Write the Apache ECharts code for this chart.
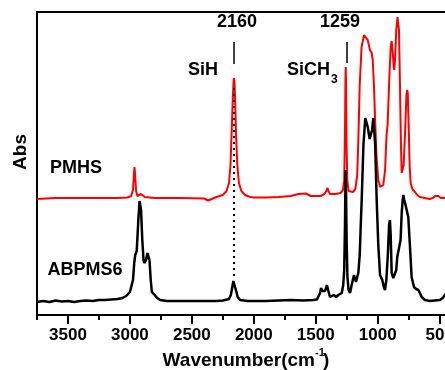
<!DOCTYPE html>
<html>
<head>
<meta charset="utf-8">
<script src="https://cdn.jsdelivr.net/npm/echarts@6/dist/echarts.min.js"></script>
<style>
  html, body { margin: 0; padding: 0; overflow: hidden; background: #fff; }
  #chart { width: 470px; height: 370px; }
</style>
</head>
<body>
<div id="chart"></div>
<script>
// FTIR spectra, wavenumber (cm-1) vs absorbance (arbitrary offset units)
const majorTicks = [3500, 3000, 2500, 2000, 1500, 1000, 500];
const minorTicks = [3750, 3250, 2750, 2250, 1750, 1250, 750];

const pmhs = [
  [3750, 116], [3600, 117], [3400, 117], [3200, 117], [3100, 117], [3020, 117.5],
  [2990, 119], [2975, 125], [2968, 140], [2963, 148], [2958, 140], [2950, 124],
  [2940, 119], [2910, 121], [2900, 121], [2880, 118], [2800, 117], [2600, 117],
  [2400, 116.5], [2370, 114.5], [2355, 116], [2300, 118], [2250, 120], [2220, 124],
  [2200, 132], [2188, 150], [2178, 185], [2170, 215], [2163, 234], [2160, 237],
  [2156, 234], [2150, 212], [2143, 180], [2133, 150], [2120, 132], [2100, 124],
  [2070, 120], [2030, 118], [2000, 117.5], [1900, 117.5], [1800, 118], [1700, 119],
  [1640, 121], [1580, 121.5], [1540, 119], [1500, 119], [1460, 119], [1430, 121],
  [1415, 124], [1405, 127], [1398, 124], [1385, 121], [1340, 121], [1300, 122],
  [1280, 125], [1270, 135], [1264, 180], [1260, 235], [1258, 248], [1255, 230],
  [1251, 170], [1245, 135], [1235, 124], [1223, 122], [1200, 123], [1180, 126],
  [1165, 140], [1156, 175], [1145, 230], [1130, 268], [1110, 280], [1094, 282],
  [1080, 275], [1062, 265], [1048, 262], [1040, 255], [1030, 230], [1022, 200],
  [1010, 160], [995, 135], [980, 128], [968, 127], [955, 130], [940, 145],
  [932, 170], [927, 182], [920, 190], [905, 240], [895, 268], [887, 274],
  [878, 262], [870, 248], [866, 245], [860, 255], [850, 285], [840, 298],
  [834, 299], [828, 285], [820, 230], [812, 170], [806, 142], [800, 140],
  [790, 150], [778, 185], [768, 220], [762, 225], [757, 222], [750, 190],
  [742, 150], [734, 132], [720, 126], [699, 123], [680, 120], [659, 118],
  [620, 117], [580, 116], [554, 117], [535, 119], [524, 120], [510, 119],
  [490, 117], [457, 117], [430, 117], [400, 117]
];

const abpms6 = [
  [3750, 13], [3700, 14], [3650, 13], [3600, 14.5], [3550, 13.5], [3500, 14],
  [3450, 13], [3400, 14], [3350, 14.5], [3300, 14], [3250, 15], [3200, 15],
  [3150, 15.5], [3100, 16], [3060, 17], [3030, 19], [3000, 23], [2990, 24],
  [2975, 35], [2965, 52], [2957, 60], [2945, 64], [2932, 95], [2922, 114],
  [2917, 116], [2910, 105], [2900, 75], [2890, 55], [2884, 52], [2870, 55],
  [2858, 62], [2850, 63], [2842, 55], [2832, 35], [2823, 23], [2800, 20],
  [2780, 17], [2756, 15], [2700, 14], [2600, 14], [2500, 14], [2400, 14],
  [2300, 14], [2250, 14.5], [2200, 16], [2185, 20], [2175, 27], [2165, 34],
  [2158, 36], [2150, 32], [2140, 23], [2130, 18], [2110, 15], [2050, 14],
  [2000, 14], [1900, 14], [1800, 14.5], [1700, 15], [1600, 14.5], [1520, 15],
  [1490, 15.5], [1475, 17], [1465, 22], [1457, 27], [1448, 24], [1436, 22],
  [1425, 24], [1410, 30], [1405, 30], [1398, 24], [1385, 18], [1370, 19],
  [1355, 20], [1344, 21], [1335, 18], [1325, 19], [1318, 20], [1305, 20],
  [1290, 22], [1278, 30], [1270, 45], [1264, 90], [1259, 145], [1255, 120],
  [1250, 70], [1244, 38], [1235, 25], [1223, 22], [1210, 30], [1191, 40],
  [1175, 33], [1165, 38], [1156, 42], [1145, 60], [1138, 85], [1129, 115],
  [1115, 170], [1100, 197], [1094, 198], [1080, 188], [1065, 176], [1056, 175],
  [1045, 185], [1035, 197], [1030, 197], [1020, 170], [1008, 115], [995, 70],
  [981, 40], [963, 35], [950, 28], [941, 25], [930, 35], [918, 60],
  [908, 90], [901, 95], [895, 80], [887, 42], [874, 37], [860, 37],
  [850, 45], [842, 58], [826, 60], [815, 75], [806, 102], [798, 115],
  [793, 120], [785, 115], [775, 110], [766, 109], [753, 98], [740, 70],
  [726, 38], [707, 28], [690, 26], [672, 25], [655, 21], [645, 18],
  [618, 15], [580, 14], [540, 14.5], [498, 15], [475, 17], [457, 20],
  [430, 24], [400, 28]
];

// peak guide lines: [wavenumber, yFrom, yTo]
const siHGuide = [2158, 39, 227];
const peakMarks = [[2158, 251, 273], [1252, 252, 273]];

const FONT = 'Liberation Sans, Arial, sans-serif';

function txt(text, x, y, size, align, extra) {
  return Object.assign({
    type: 'text', x: x, y: y,
    style: {
      text: text, fill: '#000', font: 'bold ' + size + 'px ' + FONT,
      align: align || 'center', verticalAlign: 'middle'
    }
  }, extra || {});
}

const chart = echarts.init(document.getElementById('chart'));

chart.setOption({
  animation: false,
  grid: {
    left: 37, top: 12, width: 415, height: 303,
    show: true, borderColor: '#000', borderWidth: 2
  },
  xAxis: [
    {
      type: 'value', min: 400, max: 3750, inverse: true, position: 'bottom',
      axisLine: { lineStyle: { color: '#000', width: 2 } },
      axisTick: { customValues: majorTicks, length: 9, lineStyle: { color: '#000', width: 2 } },
      axisLabel: {
        customValues: majorTicks, margin: 12, color: '#000',
        fontSize: 17, fontWeight: 'bold', fontFamily: FONT,
        formatter: v => String(v)
      },
      splitLine: { show: false }
    },
    {
      type: 'value', min: 400, max: 3750, inverse: true, position: 'bottom',
      axisLine: { show: false },
      axisTick: { customValues: minorTicks, length: 5, lineStyle: { color: '#000', width: 2 } },
      axisLabel: { show: false },
      splitLine: { show: false }
    }
  ],
  yAxis: { type: 'value', min: 0, max: 303, show: false },
  series: [
    {
      name: 'PMHS', type: 'line', data: pmhs, showSymbol: false,
      lineStyle: { color: '#ff0000', width: 2 },
      markLine: {
        silent: true, symbol: 'none', label: { show: false },
        lineStyle: { color: '#000', width: 1.5, type: 'solid' },
        data: peakMarks.map(p => [{ coord: [p[0], p[1]] }, { coord: [p[0], p[2]] }])
      },
      z: 3
    },
    {
      name: 'ABPMS6', type: 'line', data: abpms6, showSymbol: false,
      lineStyle: { color: '#000', width: 2.5 },
      markLine: {
        silent: true, symbol: 'none', label: { show: false },
        lineStyle: { color: '#000', width: 2, type: [2, 4] },
        data: [[{ coord: [siHGuide[0], siHGuide[1]] }, { coord: [siHGuide[0], siHGuide[2]] }]]
      },
      z: 4
    }
  ],
  graphic: [
    txt('2160', 237, 22, 18),
    txt('1259', 340, 22, 18),
    txt('SiH', 203, 70, 18),
    txt('SiCH', 330, 70, 18, 'right'),
    txt('3', 331, 80, 12, 'left'),
    txt('PMHS', 76, 168, 18),
    txt('ABPMS6', 85, 270, 18),
    txt('Abs', 21, 152, 19, 'center', { rotation: Math.PI / 2 }),
    txt('Wavenumber(cm', 315, 361, 19, 'right'),
    txt('-1', 315, 353, 11, 'left'),
    txt(')', 323, 361, 19, 'left')
  ]
});
</script>
</body>
</html>
